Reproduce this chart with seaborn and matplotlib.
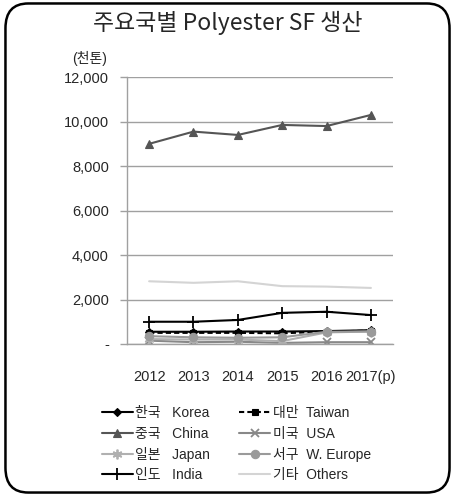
import numpy as np
import pandas as pd
import matplotlib.pyplot as plt
import seaborn as sns
from matplotlib.patches import FancyBboxPatch
from matplotlib.ticker import FuncFormatter, FixedLocator

# ========== DATA (천톤) ==========
years = ['2012', '2013', '2014', '2015', '2016', '2017(p)']
korea = [550, 550, 560, 560, 580, 620]
taiwan = [500, 500, 500, 480, 560, 600]
china = [9000, 9550, 9400, 9850, 9800, 10300]
usa = [150, 80, 100, 50, 80, 80]
japan = [220, 200, 200, 130, 520, 560]
w_europe = [350, 300, 280, 300, 550, 560]
india = [1000, 1000, 1080, 1400, 1450, 1300]
others = [2820, 2750, 2820, 2600, 2580, 2520]

series = [
    ('한국   Korea', korea, dict(color='black', marker='D', markersize=4, linestyle='-')),
    ('대만  Taiwan', taiwan, dict(color='black', marker='s', markersize=5, linestyle=(0, (2.5, 1.5)))),
    ('중국   China', china, dict(color='#555555', marker='^', markersize=6, linestyle='-')),
    ('미국  USA', usa, dict(color='#888888', marker='x', markersize=6, linestyle='-')),
    ('일본   Japan', japan, dict(color='#b0b0b0', marker=(6, 2, 0), markersize=7, linestyle='-')),
    ('서구  W. Europe', w_europe, dict(color='#9a9a9a', marker='o', markersize=6, linestyle='-')),
    ('인도   India', india, dict(color='black', marker='+', markersize=9, linestyle='-')),
    ('기타  Others', others, dict(color='#d4d4d4', marker=None, linestyle='-')),
]

sns.set_style('white')
plt.rcParams['font.family'] = ['Liberation Sans', 'Noto Sans CJK KR', 'DejaVu Sans']

fig = plt.figure(figsize=(4.55, 4.96), dpi=100)
ax = fig.add_axes([0.279, 0.3065, 0.585, 0.538])

x = np.arange(len(years))
for label, vals, style in series:
    thin = style['marker'] in ('x', '+', (6, 2, 0))
    sns.lineplot(x=x, y=vals, ax=ax, label=label, linewidth=1.5,
                 markeredgecolor=style['color'],
                 markeredgewidth=1.3 if thin else 0.8,
                 **style)

ax.set_xlim(-0.5, len(years) - 0.5)
ax.set_ylim(0, 12000)
ax.set_yticks(np.arange(0, 12001, 2000))
ax.yaxis.set_major_formatter(FuncFormatter(lambda v, p: '-' if v == 0 else f'{int(v):,}'))
ax.grid(axis='y', color='#a0a0a0', linewidth=1)
ax.set_axisbelow(True)

ax.set_xticks(x)
ax.set_xticklabels(years)
ax.xaxis.set_minor_locator(FixedLocator(np.arange(-0.5, len(years), 1)))
ax.tick_params(axis='x', which='major', length=0, pad=19, labelsize=10.5)
ax.tick_params(axis='x', which='minor', length=5, color='#a0a0a0', width=1, direction='out')
ax.tick_params(axis='y', length=5, color='#a0a0a0', width=1, pad=8, labelsize=10.5, left=True)

for side in ['top', 'right']:
    ax.spines[side].set_visible(False)
for side in ['left', 'bottom']:
    ax.spines[side].set_color('#a0a0a0')
    ax.spines[side].set_linewidth(1)

ax.set_xlabel('')
ax.set_ylabel('')
ax.text(-0.14, 1.04, '(천톤)', transform=ax.transAxes, ha='center', va='bottom', fontsize=10)

handles, labels = ax.get_legend_handles_labels()
ax.get_legend().remove()
order = [0, 2, 4, 6, 1, 3, 5, 7]
fig.legend([handles[i] for i in order], [labels[i] for i in order],
           loc='upper left', bbox_to_anchor=(0.212, 0.192), ncol=2, frameon=False,
           fontsize=10, handlelength=2.2, handletextpad=0.2, columnspacing=2.1,
           labelspacing=0.45, borderaxespad=0)

fig.text(0.5, 0.953, '주요국별 Polyester SF 생산', ha='center', va='center',
         fontsize=16.5, family=['Noto Sans CJK KR', 'DejaVu Sans'])

# rounded frame around the whole figure
frame = FancyBboxPatch((0.012, 0.007), 0.976, 0.986, boxstyle='round,pad=0,rounding_size=0.05',
                       transform=fig.transFigure, fill=False, edgecolor='black', linewidth=1.8)
fig.patches.append(frame)

plt.savefig('out.png', dpi=100)
